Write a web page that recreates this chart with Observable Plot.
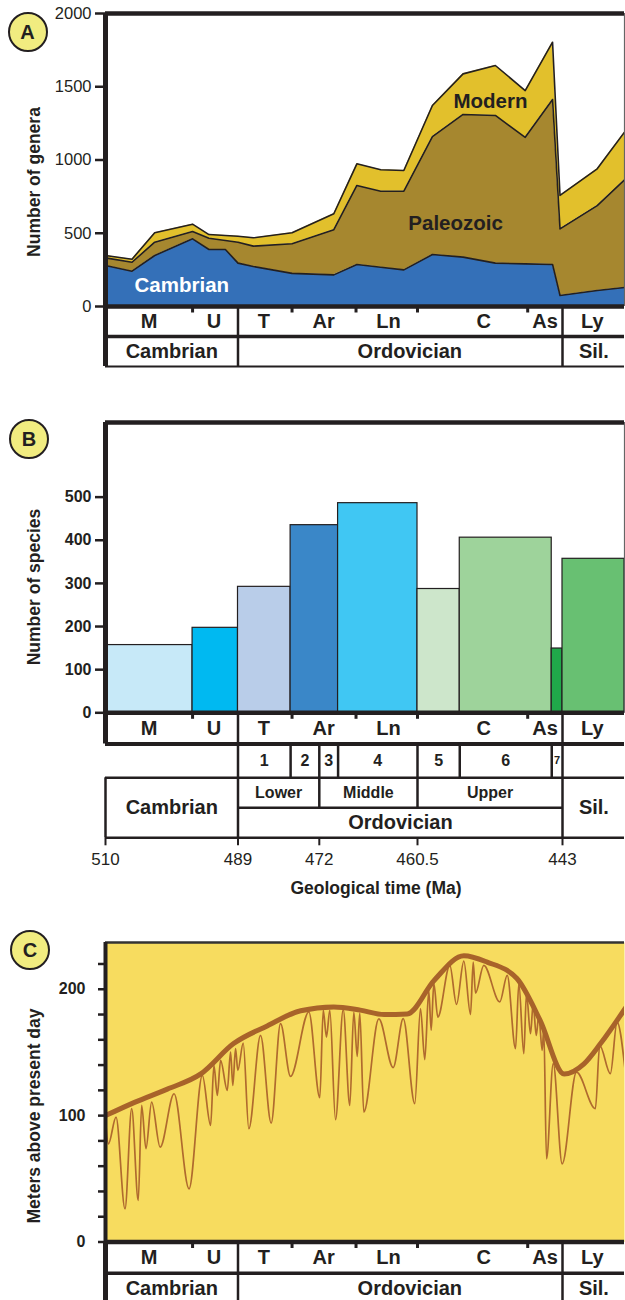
<!DOCTYPE html>
<html><head><meta charset="utf-8">
<script src="https://cdn.jsdelivr.net/npm/d3@7"></script>
<script src="https://cdn.jsdelivr.net/npm/@observablehq/plot@0.6"></script>
<style>
body{margin:0;background:#fff;}
#page{position:relative;width:625px;height:1300px;overflow:hidden;font-family:"Liberation Sans",Arial,sans-serif;color:#231f20;}
#page svg{position:absolute;left:0;top:0;}
.badge{position:absolute;width:40px;height:40px;box-sizing:border-box;border:2.5px solid #231f20;border-radius:50%;background:#f1ec80;display:flex;align-items:center;justify-content:center;font-weight:bold;font-size:20px;line-height:1;}
.ytitle{position:absolute;transform:translate(-50%,-50%) rotate(-90deg);white-space:nowrap;font-weight:bold;font-size:17.5px;line-height:1;}
.xtitle{position:absolute;transform:translate(-50%,-50%);white-space:nowrap;font-weight:bold;font-size:17.5px;line-height:1;}
</style></head><body><div id="page"></div>
<script>
const INK = "#231f20";
const FONT = '"Liberation Sans", Arial, sans-serif';

// ---------- time scale (Ma) ----------
const timeTicks = [510, 489, 472, 460.5, 443];
const rightEdgeMa = 435.5;
const series = ["M", "U", "T", "Ar", "Ln", "C", "As", "Ly"];
const seriesLabelMa = [503.1, 492.8, 483.6, 471.5, 463.9, 452.5, 445.1, 439.4];
const seriesBounds = [496.2, 477.7, 467.7, 460.5, 447.2];
const systems = ["Cambrian", "Ordovician", "Sil."];
const systemBounds = [510, 489, 443, rightEdgeMa];
const systemLabelMa = [499.5, 461.4, 439.2];
const systemLabelMaB = [499.5, 462.5, 439.2];
const stages = ["1", "2", "3", "4", "5", "6", "7"];
const stageBounds = [489, 478, 472, 469.8, 460.5, 455.4, 444.3, 443];
const subseries = ["Lower", "Middle", "Upper"];
const subseriesBounds = [489, 472, 460.5, 443];

// ---------- A: genera ----------
const faunas = ["Cambrian", "Paleozoic", "Modern"];
const faunaColors = ["#3470b8", "#a6872f", "#e2c02c"];
const generaMa = [510, 505.8, 502.2, 496.2, 493.6, 491.0, 489.0, 485.8, 477.7, 470.3, 467.6, 464.8, 462.1, 458.7, 455.0, 451.1, 447.5, 444.2, 443.3, 438.8, 435.5];
const cambrianGenera  = [280, 241, 348, 462, 389, 389, 296, 273, 226, 216, 287, 268, 250, 355, 337, 296, 291, 287, 75, 109, 130];
const paleozoicGenera = [52, 61, 91, 50, 77, 61, 143, 139, 202, 308, 539, 519, 537, 805, 974, 1008, 864, 1126, 455, 580, 735];
const modernGenera    = [16, 21, 64, 50, 25, 35, 41, 57, 75, 109, 148, 146, 141, 212, 277, 341, 319, 391, 228, 251, 325];
const generaTicks = [0, 500, 1000, 1500, 2000];
const faunaLabels = [
  {label: "Modern", Ma: 451.7, n: 1400},
  {label: "Paleozoic", Ma: 455.9, n: 570},
  {label: "Cambrian", Ma: 497.9, n: 145}
];

// ---------- B: species ----------
const binNames = ["M", "U", "T", "Ar", "Ln", "5", "C", "As", "Ly"];
const binBounds = [510, 496.2, 489, 478, 469.8, 460.5, 455.4, 444.3, 443, rightEdgeMa];
const speciesCount = [157, 197, 292, 435, 486, 287, 406, 149, 357];
const binColors = ["#c7e9f8", "#00b9f1", "#b9cde9", "#3a87c8", "#40c7f3", "#cde6cb", "#9ed39b", "#20a84a", "#68c072"];
const speciesTicks = [0, 100, 200, 300, 400, 500];

// ---------- C: sea level ----------
const envMa = [510, 505.4, 500.2, 494.9, 489.7, 482.9, 475.9, 470.3, 467.2, 464.4, 461.7, 458.5, 454.9, 452.1, 448.5, 445.7, 442.8, 440.4, 438.4, 435.4];
const envM  = [100, 110.5, 121, 133, 157, 171, 183, 186, 183.5, 180, 180.5, 207, 226.5, 221.5, 208.5, 175.4, 133, 141, 157, 185];
const detailMa = [510, 509.54, 508.33, 506.91, 505.85, 504.81, 504.27, 503.59, 502.69, 501.34, 499.13, 496.76, 494.65, 493.34, 492.82, 492.28, 491.76, 490.70, 490.18, 489.82, 489.39, 489.03, 487.91, 486.74, 484.29, 482.06, 480.11, 478.02, 474.19, 471.94, 471.54, 471.16, 470.77, 470.10, 469.20, 468.43, 467.96, 467.56, 467.26, 466.79, 465.03, 463.35, 462.17, 460.82, 460.14, 459.62, 459.14, 458.85, 458.53, 458.05, 456.60, 455.79, 454.91, 454.10, 453.78, 453.50, 452.50, 450.57, 449.67, 448.67, 448.27, 447.67, 447.35, 446.86, 446.54, 446.17, 445.86, 445.45, 445.26, 444.93, 444.12, 443.04, 441.31, 439.02, 438.50, 437.21, 436.40, 435.40];
const detailM  = [97, 77.7, 98.8, 26.3, 105.5, 32.9, 108.1, 73.8, 110.7, 75.1, 117.3, 42.1, 131.8, 92.2, 139.7, 116, 143.7, 120, 150.3, 123.9, 153, 135.8, 157.4, 89.6, 163.5, 94.1, 172.8, 131, 182, 114.2, 183.3, 162.2, 183.3, 96.8, 183.9, 108.1, 182, 146.9, 181.2, 102.8, 176.5, 138, 176.7, 109.5, 184.6, 144.3, 199, 167.5, 204.4, 178, 218.9, 188, 222.3, 180, 221.5, 197, 218.9, 190, 211, 153, 204.4, 149, 196.5, 164.8, 188.6, 163.5, 179.3, 151.6, 168.8, 65.9, 141.1, 61.9, 134.4, 105.5, 155.6, 133.2, 174, 134.4];
const seaTicks = [0, 20, 40, 60, 80, 100, 120, 140, 160, 180, 200, 220];
const seaLabelTicks = [0, 100, 200];

// ---------- helpers ----------
const page = document.getElementById("page");
const add = (svg) => page.appendChild(svg);
// geological time axis is piecewise-linear between the labelled boundaries
const warp = d3.scaleLinear().domain([...timeTicks, rightEdgeMa]).range([105, 237.5, 318.8, 417, 562, 624]);
const xScale = () => ({type: "linear", transform: (v) => warp(v), domain: [105, 624], range: [105, 624], axis: null});
// rows of the stratigraphic strips (row index -> vertical position)
const rowScale = (edges) => {
  const f = d3.scaleLinear().domain(d3.range(edges.length)).range(edges);
  return {type: "linear", transform: (v) => f(v), domain: [edges[0], edges[edges.length - 1]], range: [edges[0], edges[edges.length - 1]], axis: null};
};
const base = (top, bottom) => ({
  width: 625, height: 1300, marginLeft: 105, marginRight: 1, marginTop: top, marginBottom: 1300 - bottom,
  style: `background: transparent; overflow: visible; font-family: ${FONT}; color: ${INK};`
});
const mid = (b, i) => (b[i] + b[i + 1]) / 2;
const rowText = (names, xs, row, size, extra = {}) =>
  Plot.text(names, {x: (d, i) => xs(i), y: () => row, text: d => d, fontSize: size, fontWeight: "bold", fill: INK, ...extra});
// axis marks take tick values in the scale's (transformed) space
const seriesTicks = () => Plot.axisX({ticks: seriesBounds.map(v => warp(v)), tickSize: 6.5, tickFormat: () => "", stroke: INK, strokeWidth: 3, label: null});

// ================= PANEL A =================
const generaRows = [];
[cambrianGenera, paleozoicGenera, modernGenera].forEach((vals, k) =>
  generaMa.forEach((t, i) => generaRows.push({fauna: faunas[k], Ma: t, n: vals[i]})));

add(Plot.plot({
  ...base(13, 306),
  x: xScale(),
  y: {domain: [0, 2000]},
  color: {domain: faunas, range: faunaColors},
  marks: [
    Plot.areaY(generaRows, Plot.stackY({x: "Ma", y: "n", z: "fauna", fill: "fauna", order: faunas})),
    Plot.lineY(generaRows, Plot.stackY2({x: "Ma", y: "n", z: "fauna", order: faunas, stroke: INK, strokeWidth: 1.6})),
    Plot.text(faunaLabels, {x: "Ma", y: "n", text: "label", fontSize: 20.5, fontWeight: "bold",
      fill: d => d.label === "Cambrian" ? "#ffffff" : INK}),
    Plot.ruleX([rightEdgeMa], {stroke: "#666", strokeWidth: 1.2}),
    Plot.ruleY([2000], {stroke: INK, strokeWidth: 4.5}),
    Plot.ruleY([0], {stroke: INK, strokeWidth: 4.5}),
    Plot.ruleX([510], {stroke: INK, strokeWidth: 5}),
    Plot.axisY({ticks: generaTicks, tickSize: 10, tickPadding: 4, fontSize: 16.5, stroke: INK, strokeWidth: 2.5, label: null, tickFormat: d => String(d)}),
    seriesTicks()
  ]
}));

add(Plot.plot({
  ...base(306, 366),
  x: xScale(),
  y: rowScale([306, 336, 366]),
  marks: [
    Plot.ruleY([1], {stroke: INK, strokeWidth: 3.5}),
    Plot.ruleY([2], {stroke: INK, strokeWidth: 2}),
    Plot.ruleX([510], {y1: () => 0, y2: () => 2, stroke: INK, strokeWidth: 5}),
    Plot.ruleX([489, 443], {y1: () => 0, y2: () => 2, stroke: INK, strokeWidth: 2.5}),
    rowText(series, i => seriesLabelMa[i], 0.5, 20),
    rowText(systems, i => systemLabelMa[i], 1.5, 20)
  ]
}));

// ================= PANEL B =================
const bins = binNames.map((name, i) => ({name, start: binBounds[i], end: binBounds[i + 1], n: speciesCount[i]}));

add(Plot.plot({
  ...base(422, 712.3),
  x: xScale(),
  y: {domain: [0, 673]},
  color: {domain: binNames, range: binColors},
  marks: [
    Plot.rect(bins, {x1: "start", x2: "end", y1: () => 0, y2: "n", fill: "name", stroke: INK, strokeWidth: 1.2}),
    Plot.ruleX([rightEdgeMa], {stroke: "#666", strokeWidth: 1.2}),
    Plot.ruleY([673], {stroke: INK, strokeWidth: 4.5}),
    Plot.ruleY([0], {stroke: INK, strokeWidth: 4.5}),
    Plot.ruleX([510], {stroke: INK, strokeWidth: 5}),
    Plot.axisY({ticks: speciesTicks, tickSize: 10, tickPadding: 4, fontSize: 16, fontWeight: "bold", stroke: INK, strokeWidth: 2.5, label: null, tickFormat: d => String(d)}),
    seriesTicks()
  ]
}));

add(Plot.plot({
  ...base(712.3, 837.3),
  x: xScale(),
  y: rowScale([712.3, 743.5, 777.3, 807.3, 837.3]),
  marks: [
    Plot.ruleY([1], {stroke: INK, strokeWidth: 4}),
    Plot.ruleY([2, 4], {stroke: INK, strokeWidth: 2.5}),
    Plot.ruleY([3], {x1: () => 489, x2: () => 443, stroke: INK, strokeWidth: 2.5}),
    Plot.ruleX([510], {y1: () => 0, y2: () => 1, stroke: INK, strokeWidth: 5}),
    Plot.ruleX([510], {y1: () => 2, y2: () => 4, stroke: INK, strokeWidth: 2.5}),
    Plot.ruleX([489, 443], {y1: () => 0, y2: () => 4, stroke: INK, strokeWidth: 2.5}),
    Plot.ruleX(stageBounds.slice(1, -1).filter(b => !subseriesBounds.includes(b)), {y1: () => 1, y2: () => 2, stroke: INK, strokeWidth: 2.5}),
    Plot.ruleX(subseriesBounds.slice(1, -1), {y1: () => 1, y2: () => 3, stroke: INK, strokeWidth: 2.5}),
    rowText(series, i => seriesLabelMa[i], 0.5, 20),
    rowText(stages, i => mid(stageBounds, i), 1.5, 16,
      {fontSize: (d, i) => (stageBounds[i] - stageBounds[i + 1] < 1.5 ? 11 : 16)}),
    rowText(subseries, i => mid(subseriesBounds, i), 2.5, 16),
    rowText(systems, i => systemLabelMaB[i], 3, 20, {y: (d, i) => (i === 1 ? 3.5 : 3)}),
    // geological time axis
    Plot.axisX({ticks: timeTicks.map(v => warp(v)), tickFormat: (d, i) => String(timeTicks[i]),
      tickSize: 8, tickPadding: 7, fontSize: 17, stroke: INK, strokeWidth: 2, label: null})
  ]
}));

// ================= PANEL C =================
const envRows = envMa.map((t, i) => ({Ma: t, m: envM[i]}));
const detailRows = detailMa.map((t, i) => ({Ma: t, m: detailM[i]}));

add(Plot.plot({
  ...base(942, 1241.5),
  x: xScale(),
  y: {domain: [0, 237]},
  marks: [
    Plot.frame({fill: "#f7dc5f", stroke: null}),
    Plot.line(detailRows, {x: "Ma", y: "m", curve: "monotone-x", stroke: "#b06a2e", strokeWidth: 1.7, clip: true}),
    Plot.line(envRows, {x: "Ma", y: "m", curve: "monotone-x", stroke: "#a8632a", strokeWidth: 5, clip: true}),
    Plot.ruleY([237], {stroke: "#333", strokeWidth: 2.5}),
    Plot.ruleY([0], {stroke: INK, strokeWidth: 4.5}),
    Plot.ruleX([510], {stroke: INK, strokeWidth: 4}),
    Plot.axisY({ticks: seaTicks, tickSize: 7, tickPadding: 13, fontSize: 16, fontWeight: "bold", stroke: INK, strokeWidth: 2.5, label: null,
      tickFormat: d => (seaLabelTicks.includes(d) ? String(d) : "")}),
    seriesTicks()
  ]
}));

add(Plot.plot({
  ...base(1241.5, 1304),
  x: xScale(),
  y: rowScale([1241.5, 1272.7, 1304]),
  marks: [
    Plot.ruleY([1], {stroke: INK, strokeWidth: 3.5}),
    Plot.ruleX([510], {y1: () => 0, y2: () => 2, stroke: INK, strokeWidth: 5}),
    Plot.ruleX([489, 443], {y1: () => 0, y2: () => 2, stroke: INK, strokeWidth: 2.5}),
    rowText(series, i => seriesLabelMa[i], 0.5, 20),
    rowText(systems, i => systemLabelMa[i], 1.5, 20)
  ]
}));

// ---------- HTML annotations ----------
function html(cls, text, x, y) {
  const d = document.createElement("div");
  d.className = cls; d.textContent = text;
  if (cls === "badge") { d.style.left = (x - 20) + "px"; d.style.top = (y - 20) + "px"; }
  else { d.style.left = x + "px"; d.style.top = y + "px"; }
  page.appendChild(d);
}
html("badge", "A", 27.5, 31.5);
html("badge", "B", 29, 438.5);
html("badge", "C", 30, 950);
html("ytitle", "Number of genera", 35, 181.5);
html("ytitle", "Number of species", 35, 586.5);
html("ytitle", "Meters above present day", 35, 1115.5);
html("xtitle", "Geological time (Ma)", 376, 889);
</script></body></html>
